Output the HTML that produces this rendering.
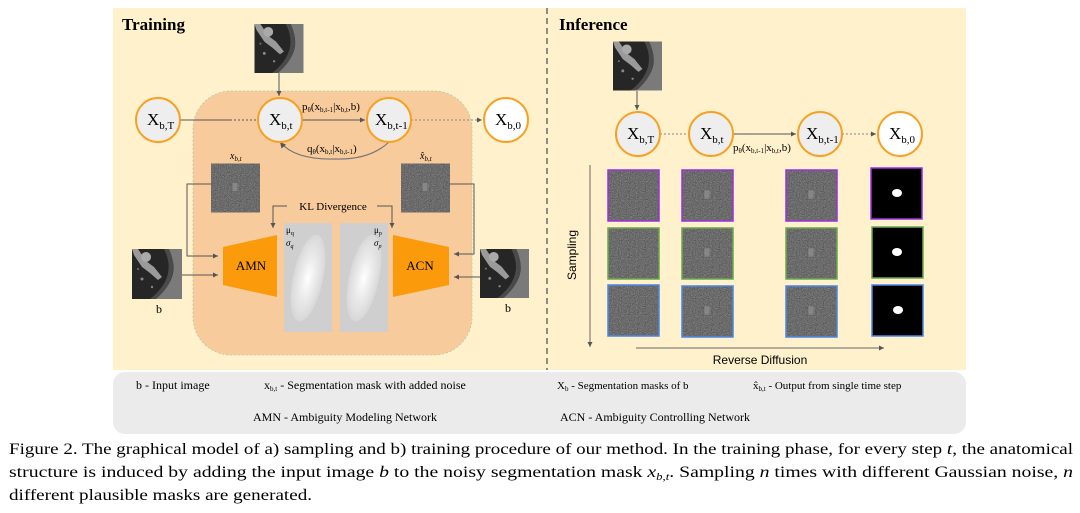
<!DOCTYPE html>
<html><head><meta charset="utf-8"><style>
html,body{margin:0;padding:0;background:#fff;}
svg{display:block;font-family:"Liberation Serif",serif;}
</style></head><body>
<svg width="1080" height="513" viewBox="0 0 1080 513" xmlns="http://www.w3.org/2000/svg">
<defs>
<filter id="nz" x="0" y="0" width="100%" height="100%" color-interpolation-filters="sRGB">
<feTurbulence type="fractalNoise" baseFrequency="0.9" numOctaves="1" seed="3"/>
<feColorMatrix type="matrix" values="0.2 0.2 0.2 0 0.12 0.2 0.2 0.2 0 0.12 0.2 0.2 0.2 0 0.12 0 0 0 0 1"/>
</filter>
<marker id="ar" markerWidth="6" markerHeight="6" refX="5" refY="3" orient="auto"><path d="M0,0.5 L5,3 L0,5.5z" fill="#555"/></marker>
<symbol id="lung" viewBox="0 0 50 50">
<rect width="50" height="50" fill="#262626"/>
<path d="M36 0 Q52 28 22 50 L50 50 L50 0z" fill="#7a7a7a"/>
<path d="M32 0 Q46 28 18 50 L24 50 Q50 28 37 0z" fill="#4a4a4a"/>
<path d="M6 0 L14 12 L22 18 L30 28 L26 31 L18 24 L10 18 L2 6 L0 0z" fill="#9a9a9a"/>
<circle cx="14" cy="8" r="5" fill="#aaa"/>
<circle cx="10" cy="30" r="1.5" fill="#888"/><circle cx="20" cy="38" r="1.2" fill="#888"/><circle cx="6" cy="20" r="1" fill="#777"/>
</symbol>
<symbol id="noise" viewBox="0 0 50 50">
<rect width="50" height="50" fill="#777" filter="url(#nz)"/>
<rect x="22" y="20" width="5" height="8" fill="#999" opacity="0.6"/>
</symbol>
<symbol id="noise0" viewBox="0 0 50 50">
<rect width="50" height="50" fill="#777" filter="url(#nz)"/>
</symbol>
<radialGradient id="ell" cx="0.5" cy="0.5" r="0.5"><stop offset="0" stop-color="#fff"/><stop offset="0.4" stop-color="#eee"/><stop offset="1" stop-color="#d8d8d8"/></radialGradient>
</defs>

<rect x="113" y="8" width="853" height="362" fill="#fef1cc"/>
<line x1="547" y1="8" x2="547" y2="370" stroke="#555" stroke-width="1.3" stroke-dasharray="6,4"/>
<rect x="113" y="372" width="853" height="62" rx="12" fill="#ebebeb"/>

<text x="122" y="30" font-size="17" font-weight="bold">Training</text>
<rect x="193" y="91" width="279" height="264" rx="38" fill="#f8cb9c" stroke="#b8c9a0" stroke-width="0.8" stroke-dasharray="2,2"/>
<use href="#lung" x="254" y="24" width="50" height="49"/>
<line x1="279" y1="73" x2="279" y2="96" stroke="#555" marker-end="url(#ar)"/>
<line x1="180" y1="120" x2="230" y2="120" stroke="#555"/>
<line x1="230" y1="120" x2="256" y2="120" stroke="#555" stroke-dasharray="2,2"/>
<line x1="302" y1="120" x2="365" y2="120" stroke="#555" marker-end="url(#ar)"/>
<line x1="411" y1="120" x2="482" y2="120" stroke="#888" stroke-dasharray="2,2" marker-end="url(#ar)"/>
<path d="M389 142 Q370 160 335 159 Q295 160 280 142" fill="none" stroke="#777" stroke-width="1.2" marker-end="url(#ar)"/>
<g stroke="#f7a122" stroke-width="2">
<circle cx="158" cy="120" r="22" fill="#eee"/>
<circle cx="280" cy="120" r="22" fill="#eee"/>
<circle cx="389" cy="120" r="22" fill="#eee"/>
<circle cx="506" cy="120" r="22" fill="#fff"/>
</g>
<g font-size="17"><text x="147" y="125">X<tspan font-size="11" dy="4">b,T</tspan></text>
<text x="269" y="125">X<tspan font-size="11" dy="4">b,t</tspan></text>
<text x="375" y="125">X<tspan font-size="11" dy="4">b,t-1</tspan></text>
<text x="495" y="125">X<tspan font-size="11" dy="4">b,0</tspan></text></g>
<text x="302" y="110" font-size="11">p<tspan font-size="7" dy="2">θ</tspan><tspan dy="-2">(x</tspan><tspan font-size="7" dy="2">b,t-1</tspan><tspan dy="-2">|x</tspan><tspan font-size="7" dy="2">b,t</tspan><tspan dy="-2">,b)</tspan></text>
<text x="307" y="152" font-size="11">q<tspan font-size="7" dy="2">θ</tspan><tspan dy="-2">(x</tspan><tspan font-size="7" dy="2">b,t</tspan><tspan dy="-2">|x</tspan><tspan font-size="7" dy="2">b,t-1</tspan><tspan dy="-2">)</tspan></text>
<text x="230" y="159" font-size="10" font-style="italic">x<tspan font-size="7" dy="2">b,t</tspan></text>
<text x="420" y="159" font-size="10" font-style="italic">x̂<tspan font-size="7" dy="2">b,t</tspan></text>
<use href="#noise" x="211" y="163" width="49" height="50"/>
<use href="#noise" x="401" y="163" width="49" height="50"/>
<text x="333" y="210" font-size="11" text-anchor="middle">KL Divergence</text>
<polyline points="287,206 273,206 273,228" fill="none" stroke="#555" marker-end="url(#ar)"/>
<polyline points="377,206 392,206 392,228" fill="none" stroke="#555" marker-end="url(#ar)"/>
<polyline points="211,184 187,184 187,256 218,256" fill="none" stroke="#555" marker-end="url(#ar)"/>
<line x1="182" y1="275" x2="218" y2="275" stroke="#555" marker-end="url(#ar)"/>
<polyline points="450,184 474,184 474,254 454,254" fill="none" stroke="#555" marker-end="url(#ar)"/>
<line x1="480" y1="277" x2="454" y2="277" stroke="#555" marker-end="url(#ar)"/>
<use href="#lung" x="132" y="249" width="50" height="50"/>
<use href="#lung" x="480" y="248" width="49" height="51"/>
<text x="159" y="313" font-size="12" text-anchor="middle">b</text>
<text x="508" y="312" font-size="12" text-anchor="middle">b</text>
<polygon points="223,247 277,235 277,297 223,285" fill="#fb9a0a"/>
<polygon points="393,235 449,247 449,285 393,297" fill="#fb9a0a"/>
<text x="251" y="270" font-size="13" text-anchor="middle">AMN</text>
<text x="420" y="270" font-size="13" text-anchor="middle">ACN</text>
<rect x="284" y="223" width="48" height="109" fill="#cfcfcf"/>
<rect x="340" y="223" width="48" height="109" fill="#cfcfcf"/>
<ellipse cx="308" cy="278" rx="15" ry="44" fill="url(#ell)" transform="rotate(12 308 278)"/>
<ellipse cx="364" cy="278" rx="15" ry="44" fill="url(#ell)" transform="rotate(12 364 278)"/>
<text x="286" y="233" font-size="9">μ<tspan font-size="6" dy="2">q</tspan></text>
<text x="286" y="246" font-size="9" font-style="italic">σ<tspan font-size="6" dy="2">q</tspan></text>
<text x="374" y="233" font-size="9">μ<tspan font-size="6" dy="2">p</tspan></text>
<text x="374" y="246" font-size="9" font-style="italic">σ<tspan font-size="6" dy="2">p</tspan></text>

<text x="559" y="30" font-size="17" font-weight="bold">Inference</text>
<use href="#lung" x="613" y="41" width="49" height="50"/>
<line x1="637" y1="91" x2="637" y2="110" stroke="#555" marker-end="url(#ar)"/>
<line x1="660" y1="134" x2="689" y2="134" stroke="#888" stroke-dasharray="2,2"/>
<line x1="733" y1="134" x2="796" y2="134" stroke="#555" marker-end="url(#ar)"/>
<line x1="842" y1="134" x2="876" y2="134" stroke="#888" stroke-dasharray="2,2" marker-end="url(#ar)"/>
<g stroke="#f7a122" stroke-width="2">
<circle cx="638" cy="134" r="22" fill="#eee"/>
<circle cx="711" cy="134" r="22" fill="#eee"/>
<circle cx="820" cy="134" r="22" fill="#eee"/>
<circle cx="900" cy="134" r="22" fill="#fff"/>
</g>
<g font-size="17"><text x="627" y="139">X<tspan font-size="11" dy="4">b,T</tspan></text>
<text x="700" y="139">X<tspan font-size="11" dy="4">b,t</tspan></text>
<text x="806" y="139">X<tspan font-size="11" dy="4">b,t-1</tspan></text>
<text x="889" y="139">X<tspan font-size="11" dy="4">b,0</tspan></text></g>
<text x="733" y="151" font-size="11">p<tspan font-size="7" dy="2">θ</tspan><tspan dy="-2">(x</tspan><tspan font-size="7" dy="2">b,t-1</tspan><tspan dy="-2">|x</tspan><tspan font-size="7" dy="2">b,t</tspan><tspan dy="-2">,b)</tspan></text>

<use href="#noise0" x="608" y="170" width="51" height="51"/>
<use href="#noise0" x="608" y="228" width="51" height="51"/>
<use href="#noise0" x="608" y="285" width="51" height="51"/>
<use href="#noise" x="682" y="170" width="51" height="51"/>
<use href="#noise" x="682" y="228" width="51" height="51"/>
<use href="#noise" x="682" y="286" width="51" height="51"/>
<use href="#noise" x="786" y="170" width="51" height="51"/>
<use href="#noise" x="786" y="228" width="51" height="51"/>
<use href="#noise" x="786" y="286" width="51" height="51"/>
<g fill="#000"><rect x="871" y="168" width="51" height="51"/><rect x="872" y="227" width="51" height="51"/><rect x="872" y="285" width="51" height="51"/></g>
<g fill="#fff"><ellipse cx="897" cy="193" rx="5" ry="4"/><ellipse cx="897" cy="252" rx="5" ry="4"/><ellipse cx="898" cy="310" rx="5" ry="4"/></g>
<g fill="none" stroke-width="1.5">
<g stroke="#9b30e0"><rect x="608" y="170" width="51" height="51"/><rect x="682" y="170" width="51" height="51"/><rect x="786" y="170" width="51" height="51"/><rect x="871" y="168" width="51" height="51"/></g>
<g stroke="#6aa84f"><rect x="608" y="228" width="51" height="51"/><rect x="682" y="228" width="51" height="51"/><rect x="786" y="228" width="51" height="51"/><rect x="872" y="227" width="51" height="51"/></g>
<g stroke="#4a86e8"><rect x="608" y="285" width="51" height="51"/><rect x="682" y="286" width="51" height="51"/><rect x="786" y="286" width="51" height="51"/><rect x="872" y="285" width="51" height="51"/></g>
</g>
<line x1="590" y1="165" x2="590" y2="347" stroke="#666" marker-end="url(#ar)"/>
<line x1="636" y1="348" x2="884" y2="348" stroke="#666" marker-end="url(#ar)"/>
<text transform="translate(576 255) rotate(-90)" font-family="Liberation Sans,sans-serif" font-size="12" text-anchor="middle">Sampling</text>
<text x="760" y="364" font-family="Liberation Sans,sans-serif" font-size="12" text-anchor="middle">Reverse Diffusion</text>

<g font-size="12">
<text x="136" y="389">b  - Input image</text>
<text x="264" y="389">x<tspan font-size="7" dy="2">b,t</tspan><tspan dy="-2"> - Segmentation mask with added noise</tspan></text>
<text x="557" y="389" font-size="11">X<tspan font-size="7" dy="2">b</tspan><tspan dy="-2"> - Segmentation masks of b</tspan></text>
<text x="753" y="389" font-size="11">x̂<tspan font-size="7" dy="2">b,t</tspan><tspan dy="-2"> - Output from single time step</tspan></text>
<text x="253" y="421">AMN - Ambiguity Modeling Network</text>
<text x="560" y="421">ACN - Ambiguity Controlling  Network</text>
</g>

<g font-size="15.5">
<text x="9" y="454" textLength="1064" lengthAdjust="spacingAndGlyphs">Figure 2. The graphical model of a) sampling and b) training procedure of our method. In the training phase, for every step <tspan font-style="italic">t</tspan>, the anatomical</text>
<text x="9" y="477" textLength="1064" lengthAdjust="spacingAndGlyphs">structure is induced by adding the input image <tspan font-style="italic">b</tspan> to the noisy segmentation mask <tspan font-style="italic">x</tspan><tspan font-style="italic" font-size="10" dy="3">b,t</tspan><tspan dy="-3">. Sampling </tspan><tspan font-style="italic">n</tspan> times with different Gaussian noise, <tspan font-style="italic">n</tspan></text>
<text x="9" y="500" textLength="303" lengthAdjust="spacingAndGlyphs">different plausible masks are generated.</text>
</g>
</svg>
</body></html>
